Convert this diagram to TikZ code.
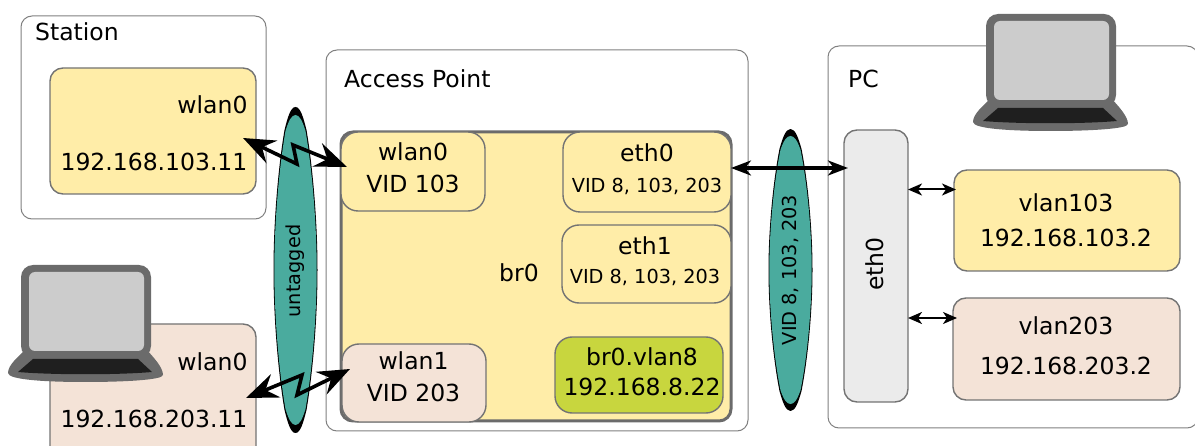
\documentclass[tikz,border=0pt]{standalone}
\usepackage{fontspec}
\setmainfont{DejaVu Sans}
\usetikzlibrary{arrows.meta}
\definecolor{yellowbox}{HTML}{FFEDA8}
\definecolor{rosebox}{HTML}{F4E3D7}
\definecolor{greenbox}{HTML}{C8D63E}
\definecolor{greybox}{HTML}{EBEBEB}
\definecolor{tealband}{HTML}{4AAB9E}
\definecolor{lapdark}{HTML}{6B6B6B}
\newcommand{\bigfont}{\fontsize{23.5}{32}\selectfont}
\newcommand{\smallfont}{\fontsize{19.3}{26}\selectfont}
\tikzset{
  devicebox/.style={draw=black!50, line width=1pt, rounded corners=11pt, inner sep=0pt, outer sep=0pt, anchor=north west},
  ifacebox/.style={draw=black!55, line width=1.4pt, rounded corners=17pt, inner sep=0pt, outer sep=0pt},
  ifacetext/.style={inner sep=0pt, align=center, font=\bigfont},
  title/.style={anchor=west, inner sep=0pt, font=\bigfont},
  bandtext/.style={rotate=90, inner sep=0pt, font=\smallfont},
  wifi/.style={line width=3.6pt, {Stealth[length=32pt,width=25pt,inset=11pt]}-{Stealth[length=32pt,width=25pt,inset=11pt]}},
  wired/.style={line width=3.2pt, {Stealth[length=20pt,width=15pt,inset=6pt]}-{Stealth[length=20pt,width=15pt,inset=6pt]}},
  shortwire/.style={line width=2pt, {Stealth[length=14pt,width=12pt,inset=4pt]}-{Stealth[length=14pt,width=12pt,inset=4pt]}},
  laptop/.pic={
    \fill[lapdark] (17,85) .. controls (10,92) and (0,100) .. (0,108)
      .. controls (0,115) and (40,117) .. (77,117)
      .. controls (115,117) and (155,115) .. (155,110)
      .. controls (155,102) and (145,92) .. (139,85) -- cycle;
    \fill[black!88] (25,94) -- (130,94) -- (144,107)
      .. controls (110,110) and (45,110) .. (10,107) -- cycle;
    \fill[lapdark, rounded corners=12pt] (13,0) rectangle (143,93);
    \fill[black!20, rounded corners=6pt] (21,7) rectangle (136,86);
  },
  lensband/.pic={
    \fill[black] (0,-163) .. controls (5,-163) and (8,-152) .. (11,-140)
      .. controls (17,-105) and (22,-50) .. (22,0)
      .. controls (22,50) and (17,105) .. (11,140)
      .. controls (8,152) and (5,163) .. (0,163)
      .. controls (-5,163) and (-8,152) .. (-11,140)
      .. controls (-17,105) and (-22,50) .. (-22,0)
      .. controls (-22,-50) and (-17,-105) .. (-11,-140)
      .. controls (-8,-152) and (-5,-163) .. (0,-163) -- cycle;
    \fill[tealband] (0,-155) .. controls (4,-155) and (7,-149) .. (10,-139)
      .. controls (16,-105) and (21.2,-50) .. (21.2,0)
      .. controls (21.2,50) and (16,105) .. (10,139)
      .. controls (7,149) and (4,155) .. (0,155)
      .. controls (-4,155) and (-7,149) .. (-10,139)
      .. controls (-16,105) and (-21.2,50) .. (-21.2,0)
      .. controls (-21.2,-50) and (-16,-105) .. (-10,-139)
      .. controls (-7,-149) and (-4,-155) .. (0,-155) -- cycle;
  }
}
\begin{document}
\begin{tikzpicture}[x=1pt, y=-1pt]
  \useasboundingbox (0,0) rectangle (1195,446);

  % outer frames
  \node[devicebox, minimum width=245pt, minimum height=203pt] (station) at (21,16) {};
  \node[devicebox, minimum width=422pt, minimum height=381pt] (ap) at (326,50) {};
  \node[devicebox, minimum width=370pt, minimum height=382pt] (pc) at (828,46) {};
  \node[title] (stationname) at (35,32) {Station};
  \node[title] (apname) at (344,79) {Access Point};
  \node[title] (pcname) at (848,79) {PC};

  % station side
  \node[ifacebox, rounded corners=13pt, fill=yellowbox, minimum width=206pt, minimum height=126pt] (stawlan) at (153,131) {};
  \node[ifacetext, align=right] (stawlantext) at (154,133) {wlan0\\[25pt]192.168.103.11};
  \node[ifacebox, rounded corners=13pt, fill=rosebox, minimum width=206pt, minimum height=136pt] (lapwlan) at (153,392) {};
  \node[ifacetext, align=right] (lapwlantext) at (154,390) {wlan0\\[25pt]192.168.203.11};
  \pic at (8,265) {laptop};

  % bridge
  \node[draw=lapdark, line width=3pt, fill=yellowbox, rounded corners=12pt, inner sep=0pt, minimum width=390pt, minimum height=289pt] (br) at (536,276.5) {};
  \node[ifacetext] (brname) at (519,273) {br0};
  \node[ifacebox, fill=yellowbox, minimum width=144pt, minimum height=79pt] (apwlan) at (413,171.5) {};
  \node[ifacetext] (apwlantext) at (413,168) {wlan0\\VID 103};
  \node[ifacebox, fill=yellowbox, minimum width=168pt, minimum height=80pt] (apeth) at (647,172) {};
  \node[ifacetext] (apethtext) at (647,169) {eth0\\[-1pt]{\smallfont VID 8, 103, 203}};
  \node[ifacebox, fill=yellowbox, minimum width=169pt, minimum height=78pt] (apethb) at (646.5,264) {};
  \node[ifacetext] (apethbtext) at (645,261) {eth1\\[-3pt]{\smallfont VID 8, 103, 203}};
  \node[ifacebox, fill=rosebox, minimum width=144pt, minimum height=78pt] (apwlanb) at (414,383) {};
  \node[ifacetext] (apwlanbtext) at (413.5,377) {wlan1\\VID 203};
  \node[ifacebox, fill=greenbox, minimum width=168pt, minimum height=76pt] (brvlan) at (639,375) {};
  \node[ifacetext] (brvlantext) at (642,372) {br0.vlan8\\[-2pt]192.168.8.22};

  % pc side
  \node[ifacebox, fill=greybox, rounded corners=13pt, minimum width=64pt, minimum height=272pt] (pceth) at (876,266) {};
  \node[rotate=90, inner sep=0pt, font=\bigfont] (pcethtext) at (875,264) {eth0};
  \node[ifacebox, fill=yellowbox, rounded corners=13pt, minimum width=226pt, minimum height=101pt] (vlana) at (1067,220.5) {};
  \node[ifacetext] (vlanatext) at (1066,220) {vlan103\\[3pt]192.168.103.2};
  \node[ifacebox, fill=rosebox, rounded corners=13pt, minimum width=227pt, minimum height=102pt] (vlanb) at (1066.5,349) {};
  \node[ifacetext] (vlanbtext) at (1066,346) {vlan203\\[8pt]192.168.203.2};
  \pic at (973,14) {laptop};

  % bands
  \pic at (295.5,270) {lensband};
  \pic[yscale=0.865] at (790.5,270) {lensband};
  \node[bandtext] (untagged) at (295,271) {untagged};
  \node[bandtext] (tagged) at (790.5,270) {VID 8, 103, 203};

  % links
  \draw[wifi] ([xshift=-13pt, yshift=-7pt]stawlan.east) -- (297,164) -- (293,145) -- ([xshift=6pt, yshift=4.5pt]apwlan.west);
  \draw[wifi] ([xshift=-10pt, yshift=-6pt]lapwlan.east) -- (302,375) -- (297,395) -- ([xshift=8pt, yshift=14pt]apwlanb.west);
  \draw[wired] ([yshift=4pt]apeth.east) -- ([yshift=4pt, xshift=4pt]apeth.east -| pceth.west);
  \draw[shortwire] ([yshift=31pt]vlana.west -| pceth.east) -- ([yshift=31pt, xshift=2pt]vlana.west);
  \draw[shortwire] ([yshift=31pt]vlanb.west -| pceth.east) -- ([yshift=31pt, xshift=4pt]vlanb.west);
\end{tikzpicture}
\end{document}
